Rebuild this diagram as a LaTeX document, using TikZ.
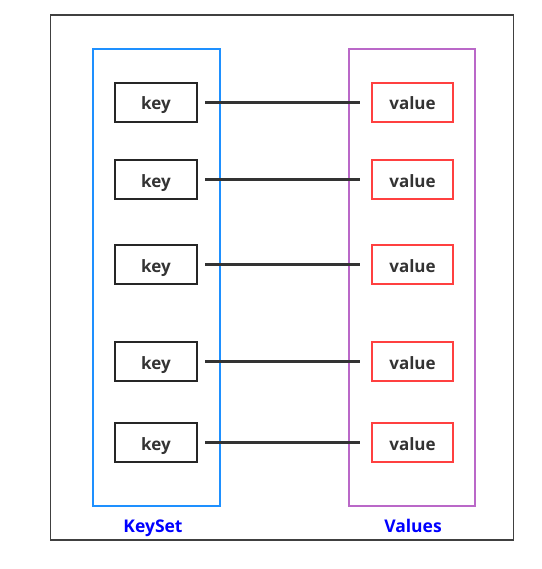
\documentclass[tikz,border=0pt]{standalone}
\usepackage{fontspec}
\setmainfont{Open Sans}
\begin{document}
\begin{tikzpicture}[x=1pt,y=-1pt,
  keybox/.style={draw=black!85, line width=1.6pt, minimum width=82pt, minimum height=39pt, inner sep=0pt, text height=15pt, text depth=0pt, font=\fontsize{17}{19}\selectfont\bfseries, text=black!80},
  valbox/.style={draw=red!75!white, line width=1.6pt, minimum width=81pt, minimum height=39pt, inner sep=0pt, text height=15pt, text depth=0pt, font=\fontsize{17}{19}\selectfont\bfseries, text=black!80},
  link/.style={draw=black!80, line width=2.6pt},
  grouplabel/.style={font=\fontsize{17.5}{19}\selectfont\bfseries, text=blue, text height=15pt, text depth=0pt}]
\useasboundingbox (0,0) rectangle (541,569);
\node[draw=black!75, line width=1.4pt, minimum width=463pt, minimum height=525pt, inner sep=0pt] (outer) at (282,277.5) {};
\node[draw={rgb,255:red,30;green,144;blue,255}, line width=2pt, minimum width=127pt, minimum height=456pt, inner sep=0pt] (keyset) at (156,277.5) {};
\node[draw={rgb,255:red,186;green,104;blue,200}, line width=2pt, minimum width=126pt, minimum height=456pt, inner sep=0pt] (values) at (412,277.5) {};
\node[grouplabel] (kl) at (153,525) {KeySet};
\node[grouplabel] (vl) at (413,525) {Values};
\foreach \i/\y in {1/102.5, 2/179.5, 3/264.5, 4/361.5, 5/442.5} {
  \node[keybox] (k\i) at (156,\y) {key};
  \node[valbox] (v\i) at (412.5,\y) {value};
  \coordinate (ks\i) at (205,\y);
  \coordinate (ve\i) at (360,\y);
  \draw[link] (ks\i) -- (ve\i);
}
\end{tikzpicture}
\end{document}
